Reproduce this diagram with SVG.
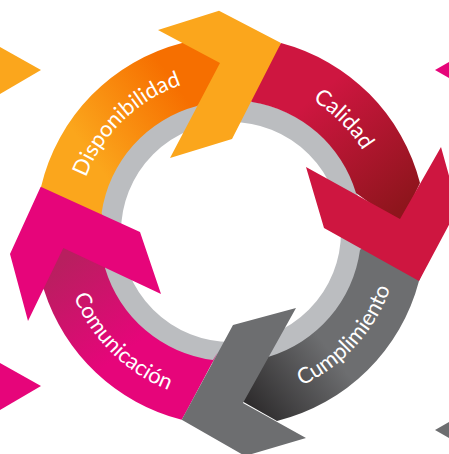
<svg xmlns="http://www.w3.org/2000/svg" width="449" height="454" viewBox="0 0 449 454">
<style>
.lbl{font-family:Lato,"Liberation Sans",sans-serif;font-size:22px;fill:#fff;text-anchor:middle}
.o{fill:#FBA61C}.r{fill:#CE1640}.g{fill:#6D6E70}.p{fill:#E6057A}
</style>
<defs>
<linearGradient id="go" gradientUnits="userSpaceOnUse" x1="90" y1="155" x2="180" y2="90"><stop offset="0" stop-color="#FBA61C"/><stop offset="1" stop-color="#F66F00"/></linearGradient>
<linearGradient id="gr" gradientUnits="userSpaceOnUse" x1="310" y1="100" x2="400" y2="210"><stop offset="0" stop-color="#CE1640"/><stop offset="1" stop-color="#8E151C"/></linearGradient>
<linearGradient id="gg" gradientUnits="userSpaceOnUse" x1="255" y1="410" x2="330" y2="351"><stop offset="0" stop-color="#2F2D2E"/><stop offset="1" stop-color="#6D6E70"/></linearGradient>
<linearGradient id="gp" gradientUnits="userSpaceOnUse" x1="70" y1="255" x2="135" y2="345"><stop offset="0" stop-color="#B81F5F"/><stop offset="1" stop-color="#E6057A"/></linearGradient>
<path id="t1" d="M76.8,215.8A155,155 0 0 1 220.2,77.4"/>
<path id="t2" d="M244.5,77.6A155,155 0 0 1 385.4,218.5"/>
<path id="t3" d="M253.4,399.5A169,169 0 0 0 399.9,239.1"/>
<path id="t4" d="M61.9,249.2A170,170 0 0 0 218.5,401.5"/>
</defs>
<circle id="ring" cx="231" cy="232" r="121" fill="none" stroke="#BBBDC0" stroke-width="22"/>
<g id="edge-arrows">
<polygon class="o" points="0,47 41,70 0,94"/>
<polygon class="p" points="435,70 449,62 449,78"/>
<polygon class="p" points="0,363 41,386 0,410"/>
<polygon class="g" points="435,430 449,422 449,438"/>
</g>
<g id="disponibilidad">
<path fill="url(#go)" d="M41,187A195,195 0 0 1 182,43L190,40L240,60L240,75L197,106A130,130 0 0 0 101.6,213L105,222L44,195Z"/>
<text class="lbl"><textPath href="#t1" startOffset="50%">Disponibilidad</textPath></text>
</g>
<g id="calidad">
<path fill="url(#gr)" d="M281,43A195,195 0 0 1 420,183L400,225L356,193A130,130 0 0 0 252,102L245,98L276,50Z"/>
<text class="lbl"><textPath href="#t2" startOffset="50%">Calidad</textPath></text>
</g>
<g id="cumplimiento">
<path fill="url(#gg)" d="M419,281A195,195 0 0 1 277,421L240,400L268,357A130,130 0 0 0 360,250L366,244L423,272Z"/>
<text class="lbl"><textPath href="#t3" startOffset="50%">Cumplimiento</textPath></text>
</g>
<g id="comunicacion">
<path fill="url(#gp)" d="M181.7,419.7A195,195 0 0 1 44,290L40,283L58,240L105,262L105,268A130,130 0 0 0 213,360L218,352L186,412Z"/>
<text class="lbl"><textPath href="#t4" startOffset="49.5%">Comunicación</textPath></text>
</g>
<g id="arrows">
<polygon class="o" points="158,30 219,10.7 281,43 232,139 170,158 220,63"/>
<polygon class="r" points="441,147 458,208 419,281 324,228 306,167 400,219"/>
<polygon class="g" points="181.7,419.7 233,325 296,308 243,403 306,438 245,456"/>
<polygon class="p" points="40.7,186.7 140,232 161,294 63.3,248 28,321 10,254"/>
</g>
</svg>
